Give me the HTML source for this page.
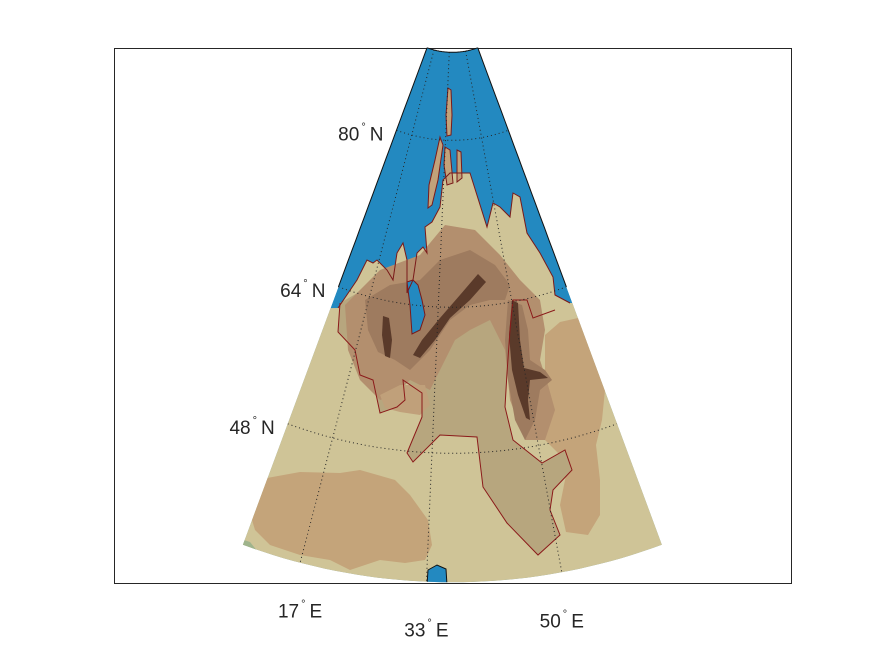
<!DOCTYPE html>
<html><head><meta charset="utf-8"><style>
html,body{margin:0;padding:0;background:#fff;}
svg{display:block;font-family:"Liberation Sans",sans-serif;}
</style></head><body>
<svg id="map" width="875" height="656" viewBox="0 0 875 656" xmlns="http://www.w3.org/2000/svg">
<defs>
<clipPath id="wedge"><path id="wedgeClip" d=""/></clipPath>
</defs>
<rect x="114.5" y="48.5" width="677" height="535" fill="#fff" stroke="#262626" stroke-width="1"/>
<g clip-path="url(#wedge)">
<path id="sea" d="" fill="#2389c0"/>
<polygon fill="#cfc497" points="200,650 200,310 338,308 357,280 367,260 373,263 377,260 387,270 393,280 397,253 403,243 407,260 407,293 413,280 417,253 423,247 427,253 425,227 432,222 440,207 443,180 450,173 470,173 487,227 493,203 500,207 510,217 513,193 520,197 527,233 540,253 553,277 555,295 570,303 700,300 700,650"/>
<polygon fill="#9fb48c" points="238,538 250,542 258,552 240,555"/>
<polygon fill="#c4a47a" points="267,478 300,472 340,473 360,470 395,480 410,495 428,520 432,545 425,560 405,563 380,560 350,570 330,560 300,555 270,545 255,530 252,520 258,500"/>
<polygon fill="#c4a47a" points="545,335 560,322 578,318 592,330 600,348 606,380 602,420 596,445 600,480 600,515 588,535 566,532 560,505 566,475 560,455 545,440"/>
<polygon fill="#b7a67e" points="513,300 510,330 507,373 505,407 513,440 542,463 565,450 572,470 553,490 550,510 560,535 538,555 507,523 483,487 477,437 440,435 413,462 407,453 422,417 422,393 403,380 405,400 397,407 380,413 373,380 360,375 355,350 338,332 340,303 380,280 430,260 470,240 500,260 527,290"/>
<polygon fill="#b38f6e" points="345,305 380,270 420,255 445,225 475,230 500,255 520,280 540,300 545,330 540,360 548,385 555,410 545,440 525,440 510,400 505,350 490,320 470,330 455,340 440,370 430,390 410,380 395,395 380,400 360,380 348,350"/>
<polygon fill="#c0a07a" points="380,395 400,385 425,385 430,405 420,415 400,412 385,408"/>
<polygon fill="#9e7b5f" points="365,300 390,285 420,280 440,260 470,250 495,265 510,285 505,300 490,300 470,305 450,320 430,350 410,370 395,360 378,352 368,330"/>
<polygon fill="#9e7b5f" points="508,300 522,305 528,330 530,360 545,370 552,380 540,390 535,420 525,440 515,420 508,380 505,340"/>
<polygon fill="#5a3a2a" points="478,274 486,282 470,300 450,318 435,340 420,358 413,355 422,340 440,318 460,295"/>
<polygon fill="#5a3a2a" points="383,316 389,318 392,340 390,358 385,356 382,335"/>
<polygon fill="#5a3a2a" points="512,300 518,303 520,340 524,368 540,372 548,378 530,380 528,400 530,420 526,418 518,395 512,370 509,335"/>
<polygon fill="#2389c0" stroke="#7a1a1a" stroke-width="1" points="407,282 413,280 418,285 422,300 425,315 420,330 412,334 410,305"/>
<polygon fill="#2389c0" stroke="#111" stroke-width="1" points="427,585 428,570 437,565 446,569 447,585"/>
<polygon fill="#c2a27a" stroke="#7a1a1a" stroke-width="1" points="448,88 451,90 452,115 451,135 447,136 446,115"/>
<polygon fill="#c2a27a" stroke="#7a1a1a" stroke-width="1" points="440,137 443,145 438,180 432,205 428,208 429,185 435,160"/>
<polygon fill="#c2a27a" stroke="#7a1a1a" stroke-width="1" points="445,147 450,150 453,183 447,185 444,165"/>
<polygon fill="#c2a27a" stroke="#7a1a1a" stroke-width="1" points="457,150 461,152 462,178 457,182"/>
<polyline fill="none" stroke="#7a1a1a" stroke-width="1" points="338,308 357,280 367,260 373,263 377,260 387,270 393,280 397,253 403,243 407,260 407,293 413,280 417,253 423,247 427,253 425,227 432,222 440,207 443,180 450,173 470,173 487,227 493,203 500,207 510,217 513,193 520,197 527,233 540,253 553,277 555,295 570,303"/>
<polyline fill="none" stroke="#8b1a1a" stroke-width="1" points="555,310 533,318 527,300 513,300 510,330 507,373 505,407 513,440 542,463 565,450 572,470 553,490 550,510 560,535 538,555 507,523 483,487 477,437 440,435 413,462 407,453 422,417 422,393 403,380 405,400 397,407 380,413 373,380 360,375 355,350 338,332 340,303"/>
<g id="graticule"></g>
</g>
<path id="frame" d="" fill="none" stroke="#111" stroke-width="1"/>
<g id="labels" fill="#262626" font-size="19"></g>
</svg>
<script>
const parallels = [80, 64, 48];
const meridians = [17, 33, 50];
const lonRange = [9.5, 63];
const latRange = [88, 36];
const apexPt = {x: 452.4, y: -20.7};
const lon0 = 36.25, nCone = 0.76;
function radius(lat){
  const lats=[88,80,64,48,36], rs=[73,161,328,474,603];
  for(let i=0;i<lats.length-1;i++){ if(lat<=lats[i]&&lat>=lats[i+1]){const t=(lats[i]-lat)/(lats[i]-lats[i+1]);return rs[i]+t*(rs[i+1]-rs[i]);} }
  return lat>88?73:603;
}
function proj(lon,lat){const a=nCone*(lon-lon0)*Math.PI/180, r=radius(lat);return [apexPt.x+r*Math.sin(a), apexPt.y+r*Math.cos(a)];}
const NS="http://www.w3.org/2000/svg";
function arc(lat,l1,l2){let s="";for(let k=0;k<=40;k++){const p=proj(l1+(l2-l1)*k/40,lat);s+=(k?"L":"M")+p[0].toFixed(1)+","+p[1].toFixed(1);}return s;}
function merid(lon,a1,a2){let s="";for(let k=0;k<=20;k++){const p=proj(lon,a1+(a2-a1)*k/20);s+=(k?"L":"M")+p[0].toFixed(1)+","+p[1].toFixed(1);}return s;}
const wedgeTop=arc(latRange[0],lonRange[0],lonRange[1]);
const wedgeBot=arc(latRange[1],lonRange[1],lonRange[0]).replace("M","L");
const wedgePath=wedgeTop+wedgeBot+"Z";
document.getElementById("wedgeClip").setAttribute("d",wedgePath);
document.getElementById("sea").setAttribute("d",wedgePath);
document.getElementById("frame").setAttribute("d",merid(lonRange[0],latRange[0],64)+" "+merid(lonRange[1],latRange[0],64)+" "+arc(latRange[0],lonRange[0],lonRange[1]));
const g=document.getElementById("graticule");
parallels.forEach(lat=>{
  const p=document.createElementNS(NS,"path");
  
  
  p.setAttribute("d",arc(lat,lonRange[0],lonRange[1]));
  p.setAttribute("fill","none");p.setAttribute("stroke","#262626");p.setAttribute("stroke-width","1");p.setAttribute("stroke-dasharray","1 3");
  g.appendChild(p);
});
meridians.forEach(lon=>{
  const p=document.createElementNS(NS,"path");
  
  
  p.setAttribute("d",merid(lon,latRange[0],latRange[1]));
  p.setAttribute("fill","none");p.setAttribute("stroke","#262626");p.setAttribute("stroke-width","1");p.setAttribute("stroke-dasharray","1 3");
  g.appendChild(p);
});
const L=document.getElementById("labels");
function label(x,y,num,suf,name,anchor){
  const t=document.createElementNS(NS,"text");
  
  
  t.setAttribute("x",x);t.setAttribute("y",y);
  t.setAttribute("text-anchor",anchor);
  t.innerHTML=num+'<tspan font-size="11" dy="-10" dx="2">°</tspan><tspan dy="10" dx="4">'+suf+'</tspan>';
  L.appendChild(t);
}
parallels.forEach(lat=>{const p=proj(lonRange[0],lat);label(p[0]-13,p[1]+10,lat,"N","parallel-label","end");});
meridians.forEach(lon=>{const p=proj(lon,latRange[1]);label(p[0],p[1]+55,lon,"E","meridian-label","middle");});
</script>
</body></html>
